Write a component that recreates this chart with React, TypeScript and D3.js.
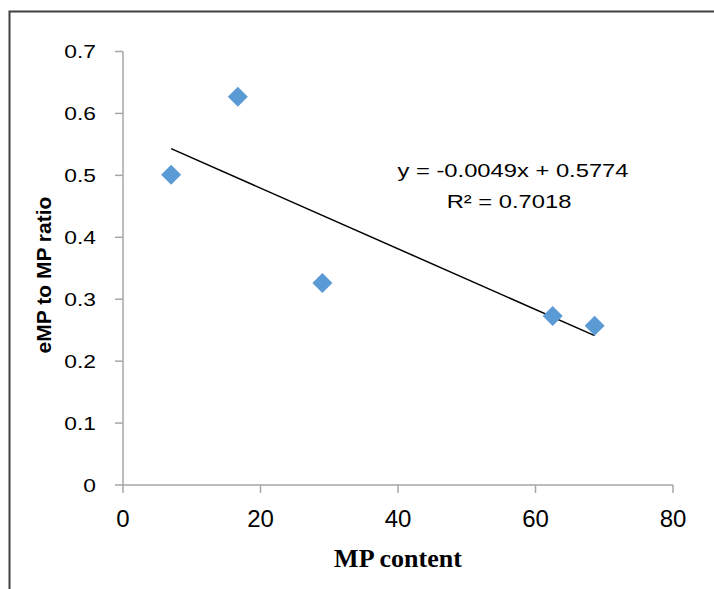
import React, { useEffect, useRef } from "react";
import * as d3 from "d3";

const mpContent = [7, 16.7, 29, 62.5, 68.6];
const empRatio = [0.501, 0.627, 0.326, 0.273, 0.257];
const xTicks = [0, 20, 40, 60, 80];
const yTicks = [0, 0.1, 0.2, 0.3, 0.4, 0.5, 0.6, 0.7];
const slope = -0.0049;
const intercept = 0.5774;
const equationLines = ["y = -0.0049x + 0.5774", "R² = 0.7018"];

const W = 714;
const H = 589;
const AXIS = "#a6a6a6";
const MARKER = "#5b9bd5";
const SANS = "Liberation Sans, Arial, sans-serif";

export default function App() {
  const ref = useRef<SVGSVGElement>(null);

  useEffect(() => {
    const svg = d3.select(ref.current);
    svg.selectAll("*").remove();

    const x = d3.scaleLinear().domain([0, 80]).range([123, 673]);
    const y = d3.scaleLinear().domain([0, 0.7]).range([485, 51.5]);

    // outer frame
    svg
      .append("path")
      .attr("d", `M9.5,${H} V11.5 H${W}`)
      .attr("fill", "none")
      .attr("stroke", "#404040")
      .attr("stroke-width", 2);

    const g = svg.append("g");

    // y axis
    g.append("line")
      .attr("x1", x(0)).attr("x2", x(0))
      .attr("y1", y(0.7)).attr("y2", y(0))
      .attr("stroke", AXIS).attr("stroke-width", 1.5);
    g.selectAll("line.ytick")
      .data(yTicks)
      .join("line")
      .attr("class", "ytick")
      .attr("x1", x(0) - 8).attr("x2", x(0))
      .attr("y1", (d) => y(d)).attr("y2", (d) => y(d))
      .attr("stroke", AXIS).attr("stroke-width", 1.5);
    g.selectAll("text.ylab")
      .data(yTicks)
      .join("text")
      .attr("class", "ylab")
      .attr("transform", (d) => `translate(96,${y(d) + 6.8}) scale(1.2,1)`)
      .attr("text-anchor", "end")
      .style("font-family", SANS)
      .style("font-size", "19px")
      .style("fill", "#000")
      .text((d) => d3.format("~g")(d));

    // x axis
    g.append("line")
      .attr("x1", x(0)).attr("x2", x(80))
      .attr("y1", y(0)).attr("y2", y(0))
      .attr("stroke", AXIS).attr("stroke-width", 1.5);
    g.selectAll("line.xtick")
      .data(xTicks)
      .join("line")
      .attr("class", "xtick")
      .attr("x1", (d) => x(d)).attr("x2", (d) => x(d))
      .attr("y1", y(0)).attr("y2", y(0) + 8)
      .attr("stroke", AXIS).attr("stroke-width", 1.5);
    g.selectAll("text.xlab")
      .data(xTicks)
      .join("text")
      .attr("class", "xlab")
      .attr("x", (d) => x(d))
      .attr("y", 527)
      .attr("text-anchor", "middle")
      .style("font-family", SANS)
      .style("font-size", "24px")
      .style("fill", "#000")
      .text((d) => d);

    // axis titles
    svg
      .append("text")
      .attr("x", 398)
      .attr("y", 567)
      .attr("text-anchor", "middle")
      .style("font-family", "Liberation Serif, Times New Roman, serif")
      .style("font-weight", "bold")
      .style("font-size", "26px")
      .text("MP content");

    svg
      .append("text")
      .attr("transform", "translate(51,275) rotate(-90)")
      .attr("text-anchor", "middle")
      .style("font-family", SANS)
      .style("font-weight", "bold")
      .style("font-size", "21px")
      .text("eMP to MP ratio");

    // linear trendline over the data range
    const x0 = d3.min(mpContent) as number;
    const x1 = d3.max(mpContent) as number;
    g.append("line")
      .attr("x1", x(x0)).attr("y1", y(slope * x0 + intercept))
      .attr("x2", x(x1)).attr("y2", y(slope * x1 + intercept))
      .attr("stroke", "#000").attr("stroke-width", 1.5);

    // markers
    const pts = mpContent.map((v, i) => ({ x: v, y: empRatio[i] }));
    g.selectAll("path.pt")
      .data(pts)
      .join("path")
      .attr("class", "pt")
      .attr("d", d3.symbol(d3.symbolSquare, 200)())
      .attr("transform", (d) => `translate(${x(d.x)},${y(d.y)}) rotate(45)`)
      .attr("fill", MARKER);

    // equation label
    svg
      .selectAll("text.eq")
      .data(equationLines)
      .join("text")
      .attr("class", "eq")
      .attr("transform", (d, i) => `translate(${i ? 509 : 513},${177 + i * 31}) scale(1.25,1)`)
      .attr("text-anchor", "middle")
      .style("font-family", SANS)
      .style("font-size", "19px")
      .style("fill", "#000")
      .text((d) => d);
  }, []);

  return (
    <svg
      ref={ref}
      width={W}
      height={H}
      style={{ position: "absolute", left: 0, top: 0, background: "#fff" }}
    />
  );
}
